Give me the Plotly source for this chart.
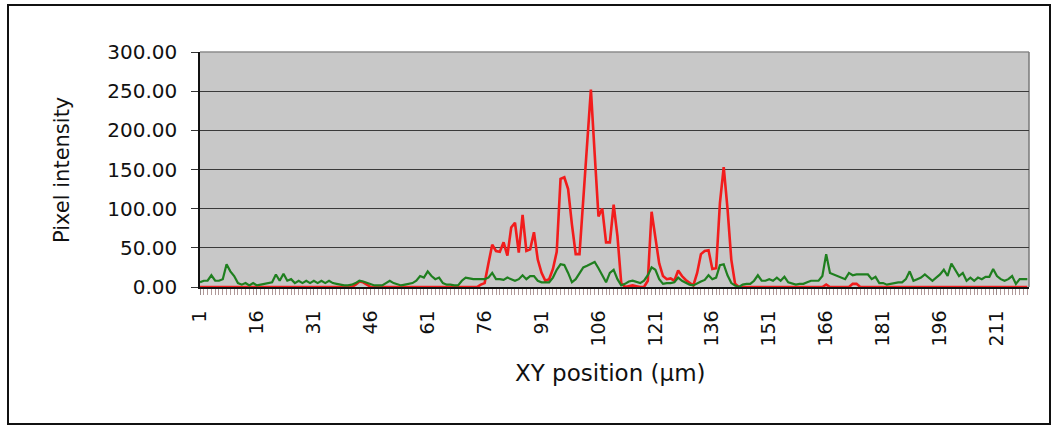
import plotly.graph_objects as go

# Scan positions along the XY line (1 µm steps)
positions = list(range(1, 220))

# Red channel intensity profile
red_intensity = [
    0, 0, 0, 0, 0, 0, 0, 0, 0, 0,
    0, 0, 0, 0, 0, 0, 0, 0, 0, 0,
    0, 0, 0, 0, 0, 0, 0, 0, 0, 0,
    0, 0, 0, 0, 0, 0, 0, 0, 0, 0,
    0, 3, 7, 6, 3, 0, 0, 0, 0, 0,
    0, 0, 0, 0, 0, 0, 0, 0, 0, 0,
    0, 0, 0, 0, 0, 0, 0, 0, 0, 0,
    0, 0, 0, 0, 3, 5, 30, 54, 46, 45,
    57, 40, 76, 82, 44, 92, 46, 48, 70, 35,
    18, 8, 10, 23, 45, 138, 140, 125, 80, 42,
    42, 112, 182, 252, 170, 90, 100, 57, 57, 105,
    65, 5, 0, 1, 2, 1, 0, 0, 8, 96,
    62, 30, 14, 10, 11, 8, 21, 14, 9, 6,
    2, 18, 42, 46, 47, 23, 24, 107, 153, 100,
    35, 4, 0, 0, 0, 0, 0, 0, 0, 0,
    0, 0, 0, 0, 0, 0, 0, 0, 0, 0,
    0, 0, 0, 0, 0, 3, 0, 0, 0, 0,
    0, 0, 4, 4, 0, 0, 0, 0, 0, 0,
    0, 0, 0, 0, 0, 0, 0, 0, 0, 0,
    0, 0, 0, 0, 0, 0, 0, 0, 0, 0,
    0, 0, 0, 0, 0, 0, 0, 0, 0, 0,
    0, 0, 0, 0, 0, 0, 0, 0, 0,
]

# Green channel intensity profile
green_intensity = [
    6, 8, 8, 15, 8, 8, 10, 29, 20, 14,
    5, 3, 5, 2, 5, 2, 3, 4, 5, 6,
    16, 8, 17, 8, 10, 5, 8, 5, 8, 5,
    8, 5, 8, 5, 8, 5, 4, 3, 2, 2,
    3, 5, 8, 7, 5, 3, 2, 2, 2, 5,
    8, 5, 3, 2, 3, 4, 5, 8, 14, 12,
    20, 14, 10, 12, 5, 3, 3, 2, 2, 8,
    12, 11, 10, 10, 10, 10, 12, 18, 10, 10,
    9, 12, 10, 8, 10, 15, 10, 14, 14, 8,
    6, 6, 6, 12, 22, 29, 28, 18, 6, 10,
    18, 25, 27, 29, 32, 24, 14, 6, 18, 22,
    10, 2, 4, 7, 8, 6, 5, 8, 15, 25,
    22, 10, 4, 5, 5, 6, 12, 8, 5, 3,
    2, 5, 7, 9, 15, 10, 12, 28, 29, 15,
    5, 2, 0, 3, 4, 4, 8, 15, 8, 8,
    10, 8, 12, 8, 13, 6, 4, 3, 4, 4,
    6, 8, 8, 8, 14, 42, 18, 16, 14, 12,
    10, 18, 15, 16, 16, 16, 16, 10, 13, 5,
    5, 3, 4, 5, 6, 6, 10, 20, 8, 10,
    12, 16, 12, 8, 12, 16, 22, 14, 30, 22,
    14, 18, 8, 12, 8, 12, 10, 13, 13, 23,
    14, 10, 8, 10, 14, 4, 10, 10, 10,
]

# Labelled positions on the x axis
x_tick_values = list(range(1, 212, 15))
x_tick_labels = [str(v) for v in x_tick_values]

# Intensity gridline levels
y_tick_values = [0, 50, 100, 150, 200, 250, 300]

FONT = "DejaVu Sans"

fig = go.Figure()
fig.add_trace(go.Scatter(
    x=positions, y=red_intensity, mode="lines",
    line=dict(color="#f21c1c", width=2.6), name="Red", hoverinfo="skip",
))
fig.add_trace(go.Scatter(
    x=positions, y=green_intensity, mode="lines",
    line=dict(color="#1f7f1f", width=2.2), name="Green", hoverinfo="skip",
))

# Plot-area geometry in pixels, used to place the frame and titles
L, R, T, B = 200, 1029, 52, 287
W, H = R - L, B - T


def px_x(p):
    return (p - L) / W


def px_y(p):
    return (B - p) / H


fig.update_layout(
    width=1056, height=427,
    margin=dict(l=L, r=1056 - R, t=T, b=427 - B, pad=0),
    paper_bgcolor="white",
    plot_bgcolor="#c8c8c8",
    showlegend=False,
    xaxis=dict(
        range=[1, 1 + (R - L) / 3.795],
        tickmode="array", tickvals=x_tick_values, ticktext=x_tick_labels,
        tickangle=-90,
        tickfont=dict(family=FONT, size=19, color="#111"),
        ticks="outside", ticklen=6, tickcolor="#9a8a8a", tickwidth=1,
        minor=dict(tick0=1, dtick=1, ticks="outside", ticklen=6,
                   tickcolor="#b09a9a", tickwidth=1, showgrid=False),
        ticklabelstandoff=8,
        showgrid=False, zeroline=False,
        showline=True, linecolor="#111", linewidth=1.5,
        fixedrange=True,
    ),
    yaxis=dict(
        range=[0, 300],
        tickmode="array", tickvals=y_tick_values,
        tickformat=".2f",
        tickfont=dict(family=FONT, size=20, color="#111"),
        ticks="outside", ticklen=7, tickcolor="#333", tickwidth=1,
        ticklabelstandoff=10,
        showgrid=True, gridcolor="#3a3a3a", gridwidth=1,
        zeroline=False,
        showline=True, linecolor="#111", linewidth=1.5,
        fixedrange=True,
    ),
    annotations=[
        dict(text="Pixel intensity", textangle=-90,
             x=px_x(62), y=px_y(170), xref="paper", yref="paper",
             xanchor="center", yanchor="middle", showarrow=False,
             font=dict(family=FONT, size=21, color="#111")),
        dict(text="XY position (\u03bcm)",
             x=px_x(610), y=px_y(373), xref="paper", yref="paper",
             xanchor="center", yanchor="middle", showarrow=False,
             font=dict(family=FONT, size=23, color="#111")),
    ],
    shapes=[
        # grey border along the top and right of the plot area
        dict(type="line", xref="paper", yref="paper", x0=0, x1=1, y0=1, y1=1,
             line=dict(color="#8c8c8c", width=1.5), layer="between"),
        dict(type="line", xref="paper", yref="paper", x0=1, x1=1, y0=0, y1=1,
             line=dict(color="#7a7a7a", width=1.5), layer="between"),
        # outer chart frame
        dict(type="rect", xref="paper", yref="paper",
             x0=px_x(8), x1=px_x(1050), y0=px_y(424), y1=px_y(5),
             line=dict(color="#111", width=2), fillcolor="rgba(0,0,0,0)"),
    ],
)

fig.write_html("out.html")
